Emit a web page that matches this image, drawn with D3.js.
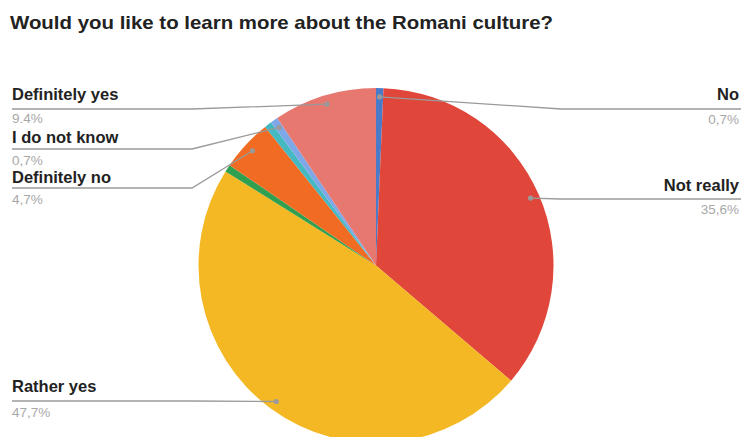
<!DOCTYPE html>
<html>
<head>
<meta charset="utf-8">
<script src="https://cdn.jsdelivr.net/npm/d3@7"></script>
<style>
  html, body { margin: 0; padding: 0; background: #fff; }
  svg { display: block; font-family: "Liberation Sans", Arial, sans-serif; }
</style>
</head>
<body>
<svg id="chart" width="742" height="437"></svg>
<script>
// Survey answers, in clockwise order starting at 12 o'clock
const categories = ["No", "Not really", "Rather yes", "Rather not", "Definitely no", "No answer", "I do not know", "Definitely yes"];
const counts     = [1, 53, 71, 1, 7, 1, 1, 14];
const percentLabels = ["0,7%", "35,6%", "47,7%", "0,7%", "4,7%", "0,7%", "0,7%", "9.4%"];
const colors = ["#4a7bc8", "#e0463a", "#f3b823", "#30a050", "#f26b22", "#45b9c2", "#7ea7e8", "#e67870"];

// Which slices get an outside label, and where the label block sits
const labelled = [
  { name: "No",             side: "right", nameY: 100, lineY: 109, pctY: 124 },
  { name: "Not really",     side: "right", nameY: 191, lineY: 199, pctY: 214 },
  { name: "Rather yes",     side: "left",  nameY: 392, lineY: 401, pctY: 417 },
  { name: "Definitely no",  side: "left",  nameY: 183, lineY: 188, pctY: 204 },
  { name: "I do not know",  side: "left",  nameY: 143, lineY: 149, pctY: 165 },
  { name: "Definitely yes", side: "left",  nameY: 100, lineY: 109, pctY: 123 }
];

const W = 742, H = 437;
const cx = 376, cy = 265.5, R = 177.5;
const leftX = 12, rightX = 740, leftElbow = 192, rightElbow = 561;

const svg = d3.select("#chart");

svg.append("text")
  .attr("x", 10).attr("y", 29)
  .attr("font-size", 18.5).attr("font-weight", "bold")
  .attr("textLength", 543).attr("lengthAdjust", "spacingAndGlyphs")
  .attr("fill", "#222")
  .text("Would you like to learn more about the Romani culture?");

const data = categories.map((c, i) => ({ name: c, value: counts[i], pct: percentLabels[i], color: colors[i] }));

const pie = d3.pie().sort(null).value(d => d.value);
const arcs = pie(data);
const arc = d3.arc().innerRadius(0).outerRadius(R);
const dotArc = d3.arc().innerRadius(R * 0.95).outerRadius(R * 0.95);

const g = svg.append("g").attr("transform", `translate(${cx},${cy})`);
g.selectAll("path.slice").data(arcs).join("path")
  .attr("class", "slice")
  .attr("d", arc)
  .attr("fill", d => d.data.color);

const byName = new Map(arcs.map(a => [a.data.name, a]));
const lineColor = "#9a9a9a";

labelled.forEach(l => {
  const a = byName.get(l.name);
  const [dx, dy] = dotArc.centroid(a);
  const px = cx + dx, py = cy + dy;
  let pts;
  if (l.side === "left") {
    pts = px <= leftElbow + 5 ? [[leftX, l.lineY], [px, py]] : [[leftX, l.lineY], [leftElbow, l.lineY], [px, py]];
  } else {
    pts = px >= rightElbow - 5 ? [[px, py], [rightX + 1, l.lineY]] : [[px, py], [rightElbow, l.lineY], [rightX + 1, l.lineY]];
  }
  svg.append("path")
    .attr("d", d3.line()(pts))
    .attr("fill", "none")
    .attr("stroke", lineColor)
    .attr("stroke-width", 1.3);
  svg.append("circle")
    .attr("cx", px).attr("cy", py).attr("r", 2.6)
    .attr("fill", lineColor);

  const anchor = l.side === "left" ? "start" : "end";
  const tx = l.side === "left" ? leftX : rightX - 1;
  svg.append("text")
    .attr("x", tx).attr("y", l.nameY)
    .attr("text-anchor", anchor)
    .attr("font-size", 16.5).attr("font-weight", "bold")
    .attr("fill", "#222")
    .text(l.name);
  svg.append("text")
    .attr("x", tx).attr("y", l.pctY)
    .attr("text-anchor", anchor)
    .attr("font-size", 13.5)
    .attr("fill", "#a8a8a8")
    .text(a.data.pct);
});
</script>
</body>
</html>
